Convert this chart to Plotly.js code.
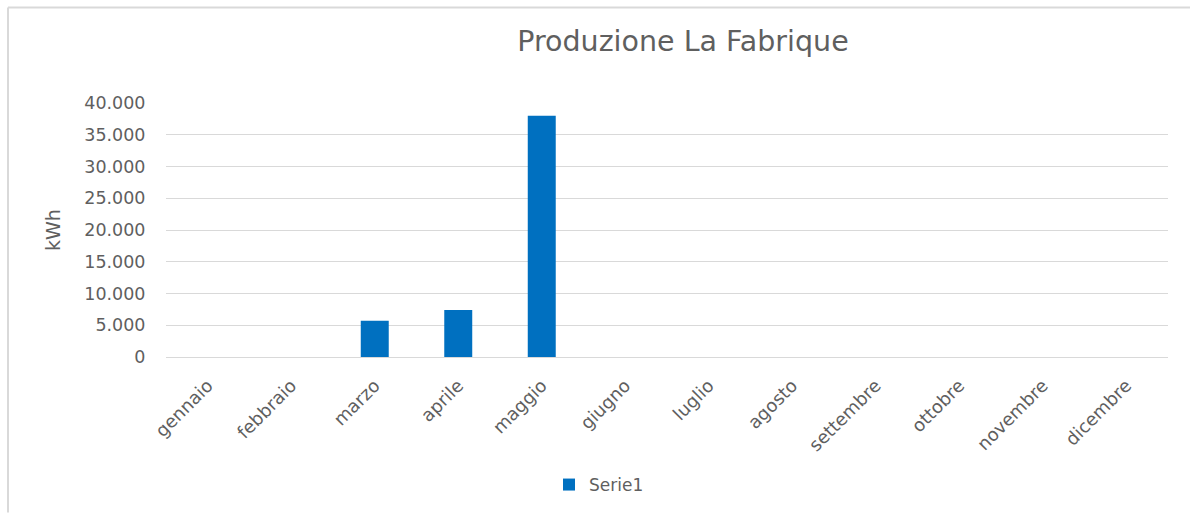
<!DOCTYPE html>
<html>
<head>
<meta charset="utf-8">
<script src="https://cdn.plot.ly/plotly-3.0.1.min.js"></script>
<style>
  html, body { margin: 0; padding: 0; background: #fff; }
  #chart { width: 1190px; height: 514px; }
</style>
</head>
<body>
<div id="chart"></div>
<script>
const months = ["gennaio", "febbraio", "marzo", "aprile", "maggio", "giugno",
                "luglio", "agosto", "settembre", "ottobre", "novembre", "dicembre"];
const serie1 = [null, null, 5700, 7400, 38000, null, null, null, null, null, null, null];
const seriesName = "Serie1";
const chartTitle = "Produzione La Fabrique";
const yTitle = "kWh";

const W = 1190, H = 514;
const mL = 166, mR = 22, mT = 103, mB = 156;
const pw = W - mL - mR, ph = H - mT - mB;
const px = x => (x - mL) / pw;
const py = y => (H - mB - y) / ph;

const textColor = "#5f5f5f";
const gridColor = "#d9d9d9";
const font = "DejaVu Sans, Verdana, sans-serif";

const trace = {
  type: "bar",
  x: months,
  y: serie1,
  name: seriesName,
  marker: { color: "#0070C0", line: { width: 0 } },
  showlegend: true,
  hoverinfo: "x+y"
};

const layout = {
  width: W, height: H,
  margin: { l: mL, r: mR, t: mT, b: mB, pad: 0 },
  paper_bgcolor: "#ffffff",
  plot_bgcolor: "#ffffff",
  separators: ",.",
  bargap: 0.665,
  font: { family: font, color: textColor, size: 17 },
  title: {
    text: chartTitle,
    font: { family: font, size: 28.5, color: textColor },
    xref: "paper", x: px(683), xanchor: "center",
    yref: "container", y: 1 - 41 / H, yanchor: "middle"
  },
  xaxis: {
    type: "category",
    tickangle: -45,
    tickfont: { family: font, size: 18, color: textColor },
    ticks: "outside", ticklen: 10, tickcolor: "rgba(0,0,0,0)",
    showgrid: false,
    showline: true, linecolor: gridColor, linewidth: 1,
    zeroline: false,
    automargin: false
  },
  yaxis: {
    range: [0, 40000],
    dtick: 5000,
    tickformat: ",d",
    tickfont: { family: font, size: 17.5, color: textColor },
    ticks: "outside", ticklen: 16, tickcolor: "rgba(0,0,0,0)",
    showgrid: true, gridcolor: gridColor, gridwidth: 1,
    zeroline: false,
    showline: false,
    title: { text: yTitle, font: { family: font, size: 19, color: textColor }, standoff: 18 },
    automargin: false
  },
  legend: {
    orientation: "h",
    x: px(549), xanchor: "left",
    y: py(485), yanchor: "middle",
    font: { family: font, size: 17, color: textColor },
    bgcolor: "rgba(0,0,0,0)",
    itemwidth: 30
  },
  shapes: [
    { type: "line", xref: "paper", yref: "paper",
      x0: px(8), x1: px(1190), y0: py(7), y1: py(7),
      line: { color: gridColor, width: 2 } },
    { type: "line", xref: "paper", yref: "paper",
      x0: px(8), x1: px(8), y0: py(7), y1: py(514),
      line: { color: gridColor, width: 2 } }
  ]
};

Plotly.newPlot("chart", [trace], layout, { displayModeBar: false, staticPlot: true });
</script>
</body>
</html>
